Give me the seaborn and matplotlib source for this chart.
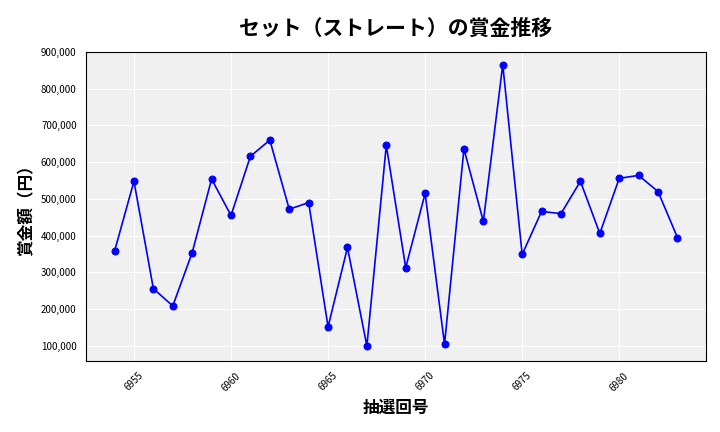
import matplotlib
matplotlib.use("Agg")
import matplotlib.pyplot as plt
import matplotlib.ticker as mticker
import pandas as pd
import seaborn as sns

draws = list(range(6954, 6984))
prizes = [358000, 548000, 256000, 209000, 354000, 554000, 455000, 616000, 660000, 472000,
          490000, 152000, 368000, 100000, 646000, 313000, 515000, 105000, 636000, 439000,
          865000, 349000, 466000, 460000, 548000, 406000, 556000, 564000, 520000, 395000]

sns.set_style("darkgrid", {"axes.facecolor": "#f0f0f0", "grid.color": "white"})
plt.rcParams['font.family'] = ['Noto Sans CJK JP', 'DejaVu Sans']

df = pd.DataFrame({"draw": draws, "prize": prizes})
fig, ax = plt.subplots(figsize=(7.2, 4.32), dpi=100)
sns.lineplot(data=df, x="draw", y="prize", ax=ax, color="blue", marker="o",
             markersize=5, markeredgecolor="blue", linewidth=1.2)
for s in ax.spines.values():
    s.set_visible(True)
    s.set_color("black")
    s.set_linewidth(0.8)
ax.set_title("セット（ストレート）の賞金推移", fontsize=15, fontweight="bold", pad=12, color="black")
ax.set_xlabel("抽選回号", fontsize=12, fontweight="bold", color="black")
ax.set_ylabel("賞金額（円）", fontsize=12, fontweight="bold", color="black")
ax.yaxis.set_major_formatter(mticker.FuncFormatter(lambda v, p: f"{int(v):,}"))
ax.set_ylim(60000, 900000)
ax.xaxis.set_major_locator(mticker.MultipleLocator(5))
ax.tick_params(axis="x", labelrotation=45, labelsize=7, colors="black")
ax.tick_params(axis="y", labelsize=7, colors="black")
fig.subplots_adjust(left=0.12, right=0.98, top=0.88, bottom=0.165)
fig.savefig("out.png")
